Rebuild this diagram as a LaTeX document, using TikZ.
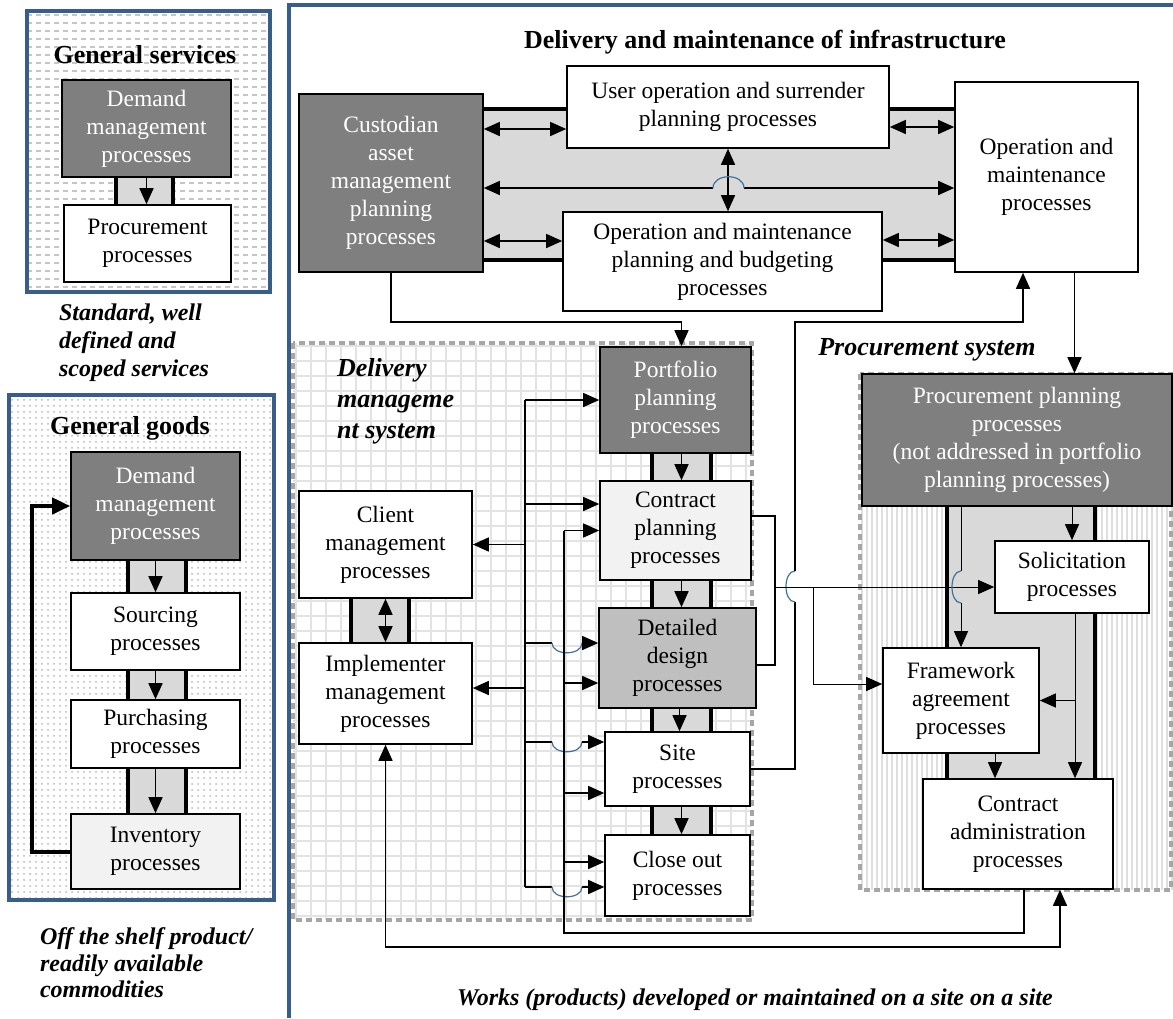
\documentclass[tikz,border=0pt]{standalone}
\usepackage{fontspec}
\setmainfont{Liberation Serif}
\usetikzlibrary{arrows.meta,
                calc,
                patterns}
\definecolor{darkbox}{RGB}{127,127,127}
\definecolor{greyfill}{RGB}{191,191,191}
\definecolor{palebox}{RGB}{242,242,242}
\definecolor{bandgray}{RGB}{217,217,217}
\definecolor{frameblue}{RGB}{56,93,138}
\definecolor{hopblue}{RGB}{65,113,156}
\definecolor{framegray}{RGB}{166,166,166}
\tikzset{
        base/.style={draw, align=center, inner sep=0pt, line width=0.8pt,
                     font=\fontsize{11.75}{14}\selectfont},
        proc/.style={base, fill=white},
        dark/.style={base, fill=darkbox, text=white},
        pale/.style={base, fill=palebox},
        greybox/.style={base, fill=greyfill},
        wire/.style={line width=0.75pt},
        myarrow/.style={-{Triangle[length=8pt, width=7pt]}, line width=0.75pt},
        thinarrow/.style={-{Triangle[length=8pt, width=7pt]}, line width=0.5pt},
        twoway/.style={{Triangle[length=8pt, width=7pt]}-{Triangle[length=8pt, width=7pt]},
                       line width=0.75pt},
        hop/.style={draw=hopblue, line width=0.6pt},
        band/.style={fill=bandgray},
        bandside/.style={line width=2pt},
        sysframe/.style={draw=framegray, line width=2pt, dash pattern=on 3pt off 2pt},
        panel/.style={draw=frameblue, line width=1.6pt},
        heading/.style={font=\fontsize{13}{15}\selectfont\bfseries},
        note/.style={align=left, font=\fontsize{12}{14}\selectfont\bfseries\itshape},
}

\begin{document}
\begin{tikzpicture}[x=0.5pt, y=-0.5pt]
    \useasboundingbox (0,0) rectangle (1173,1018);
    \fill[white] (0,0) rectangle (1173,1018);

    % left panels
    \begin{scope}
        \clip (27,11) rectangle (270,292);
        \foreach \y in {15,23,...,291}
            \draw[gray!45, line width=0.6pt, dash pattern=on 2.5pt off 2pt] (27,\y) -- (270,\y);
    \end{scope}
    \draw[panel] (27,11) rectangle (270,292);
    \fill[pattern=dots, pattern color=gray!55] (9,395) rectangle (274,900);
    \draw[panel] (9,395) rectangle (274,900);

    % right panel, grid and stripes
    \draw[panel] (289,1018) -- (289,5) -- (1173,5);
    \begin{scope}
        \clip (293,343) rectangle (752,920);
        \foreach \x in {296,311,...,752}
            \draw[gray!22, line width=0.8pt] (\x,343) -- (\x,920);
        \foreach \y in {346,361,...,920}
            \draw[gray!22, line width=0.8pt] (293,\y) -- (752,\y);
    \end{scope}
    \draw[sysframe] (293,343) rectangle (752,920);
    \begin{scope}
        \clip (860,374) rectangle (1173,890);
        \foreach \x in {862,867,...,1173}
            \draw[gray!25, line width=0.6pt] (\x,374) -- (\x,890);
    \end{scope}
    \draw[sysframe] (860,374) rectangle (1171,890);

    % bands
    \fill[band] (116,177) rectangle (173,205);
    \draw[bandside] (116,177) -- (116,205) (173,177) -- (173,205);
    \foreach \a/\b in {559/593, 670/700, 768/814} {
        \fill[band] (128,\a) rectangle (186,\b);
        \draw[bandside] (128,\a) -- (128,\b) (186,\a) -- (186,\b);
    }
    \fill[band] (483,109) rectangle (955,260);
    \draw[bandside] (483,109) -- (955,109) (483,260) -- (955,260);
    \foreach \a/\b in {453/481, 580/608, 708/732, 806/835} {
        \fill[band] (652,\a) rectangle (711,\b);
        \draw[bandside] (652,\a) -- (652,\b) (711,\a) -- (711,\b);
    }
    \fill[band] (351,598) rectangle (409,643);
    \draw[bandside] (351,598) -- (351,643) (409,598) -- (409,643);
    \fill[band] (947,506) rectangle (1095,779);
    \draw[bandside] (947,506) -- (947,779) (1095,506) -- (1095,779);

    % general services
    \node[heading] (titleS) at (145,55) {General services};
    \node[dark, minimum width=84.5pt, minimum height=48.5pt] (demS) at (146.5,128.5)
        {Demand\\management\\processes};
    \node[proc, minimum width=83.5pt, minimum height=38.5pt] (procS) at (147.5,243.5)
        {Procurement\\processes};
    \node[note, anchor=west] (noteS) at (52,343) {Standard, well\\defined and\\scoped services};

    % general goods
    \node[heading] (titleG) at (130,428) {General goods};
    \node[dark, minimum width=84.5pt, minimum height=54pt] (demG) at (155.5,506)
        {Demand\\management\\processes};
    \node[proc, minimum width=84.5pt, minimum height=38.5pt] (srcG) at (155.5,631.5)
        {Sourcing\\processes};
    \node[proc, minimum width=84.5pt, minimum height=34pt] (purG) at (155.5,734)
        {Purchasing\\processes};
    \node[pale, minimum width=84.5pt, minimum height=37.5pt] (invG) at (155.5,851.5)
        {Inventory\\processes};
    \node[note, anchor=west, font=\fontsize{12}{13.25}\selectfont\bfseries\itshape] (noteG)
        at (33,963) {Off the shelf product/\\readily available\\commodities};

    % delivery and maintenance
    \node[heading] (titleD) at (765,42) {Delivery and maintenance of infrastructure};
    \node[dark, minimum width=92pt, minimum height=89pt] (cust) at (391,183)
        {Custodian\\asset\\management\\planning\\processes};
    \node[proc, minimum width=161pt, minimum height=41pt] (userOp) at (728,107)
        {User operation and surrender\\planning processes};
    \node[proc, minimum width=159.5pt, minimum height=49.5pt] (omPlan) at (722.5,261.5)
        {Operation and maintenance\\planning and budgeting\\processes};
    \node[proc, minimum width=91.5pt, minimum height=95pt] (omProc) at (1046.5,177)
        {Operation and\\maintenance\\processes};

    % delivery management system
    \node[note, anchor=west, font=\fontsize{13}{15.5}\selectfont\bfseries\itshape] (titleDM)
        at (330,401) {Delivery\\manageme\\nt system};
    \node[dark, minimum width=75.5pt, minimum height=53pt] (port) at (675.5,400)
        {Portfolio\\planning\\processes};
    \node[pale, minimum width=75.5pt, minimum height=49.5pt] (cplan) at (675.5,530.5)
        {Contract\\planning\\processes};
    \node[greybox, minimum width=78.5pt, minimum height=50pt] (ddes) at (677.5,658)
        {Detailed\\design\\processes};
    \node[proc, minimum width=72.5pt, minimum height=37pt] (site) at (677.5,769)
        {Site\\processes};
    \node[proc, minimum width=72.5pt, minimum height=40.5pt] (close) at (677.5,875.5)
        {Close out\\processes};
    \node[proc, minimum width=86.5pt, minimum height=53.5pt] (client) at (385.5,544.5)
        {Client\\management\\processes};
    \node[proc, minimum width=86.5pt, minimum height=50.5pt] (impl) at (385.5,693.5)
        {Implementer\\management\\processes};

    % procurement system
    \node[note, font=\fontsize{13}{15}\selectfont\bfseries\itshape] (titleP) at (927,350)
        {Procurement system};
    \node[dark, minimum width=155pt, minimum height=66pt] (pplan) at (1017,440)
        {Procurement planning\\processes\\(not addressed in portfolio\\planning processes)};
    \node[proc, minimum width=77pt, minimum height=36pt] (sol) at (1072,577)
        {Solicitation\\processes};
    \node[proc, minimum width=78pt, minimum height=52.5pt] (fwk) at (961,700.5)
        {Framework\\agreement\\processes};
    \node[proc, minimum width=95pt, minimum height=55pt] (cadmin) at (1018,834)
        {Contract\\administration\\processes};

    \node[note] (noteW) at (755,1000)
        {Works (products) developed or maintained on a site on a site};

    % left connectors
    \draw[myarrow] (demS.south) -- (demS.south |- procS.north);
    \draw[myarrow] (demG.south) -- (srcG.north);
    \draw[myarrow] (srcG.south) -- (purG.north);
    \draw[myarrow] (purG.south) -- (invG.north);
    \draw[-{Triangle[length=9pt, width=8pt]}, line width=2pt]
        (invG.west) -- ++(-38,0) |- (demG.west);

    % top connectors
    \coordinate (a1) at (484,129);
    \coordinate (a2) at (484,241);
    \coordinate (a3) at (890,127);
    \coordinate (a4) at (890,240);
    \draw[twoway] (cust.east |- a1) -- (userOp.west |- a1);
    \draw[twoway] (cust.east |- a2) -- (omPlan.west |- a2);
    \draw[twoway] (userOp.east |- a3) -- (omProc.west |- a3);
    \draw[twoway] (omPlan.east |- a4) -- (omProc.west |- a4);
    \draw[twoway] (userOp.south) -- (userOp.south |- omPlan.north);
    \coordinate (hTa) at (713,188);
    \coordinate (hTb) at (744,188);
    \draw[myarrow] (hTa) -- (cust.east |- hTa);
    \draw[myarrow] (hTb) -- (omProc.west |- hTb);
    \draw[hop] (hTa) .. controls +(0,-15) and +(0,-15) .. (hTb);
    \draw[myarrow] (cust.south) -- ++(0,49) -| ([xshift=3pt]port.north);
    \draw[myarrow] ([xshift=14pt]omProc.south) -- ([xshift=14pt]omProc.south |- pplan.north);

    % site back to operation and maintenance
    \coordinate (hv1a) at (795,602);
    \coordinate (hv1b) at (795,571);
    \coordinate (upT) at (795,322);
    \draw[wire] (site.east) -| (hv1a);
    \draw[hop] (hv1a) .. controls +(-12,0) and +(-12,0) .. (hv1b);
    \draw[myarrow] (hv1b) -- (upT) -| ([xshift=-11.75pt]omProc.south);

    % stack of delivery processes
    \draw[myarrow] ([xshift=3pt]port.south) -- ([xshift=3pt]port.south |- cplan.north);
    \draw[myarrow] ([xshift=3pt]cplan.south) -- ([xshift=3pt]cplan.south |- ddes.north);
    \draw[myarrow] ([xshift=1pt]ddes.south) -- ([xshift=1pt]ddes.south |- site.north);
    \draw[myarrow] ([xshift=2pt]site.south) -- ([xshift=2pt]site.south |- close.north);
    \draw[twoway] (client.south) -- (impl.north);

    % trunk 1
    \coordinate (t1) at (525,400);
    \coordinate (t1b) at (525,887);
    \draw[wire] (t1) -- (t1b);
    \draw[myarrow] (t1) -- (port.west);
    \draw[myarrow] (525,504) -- ([yshift=13.25pt]cplan.west);
    \draw[myarrow] (525,544.5) -- (client.east);
    \draw[myarrow] (525,688) -- ([yshift=2.75pt]impl.east);
    \foreach \y/\s/\n in {643/7.5pt/ddes, 742/13.5pt/site, 887/-5.75pt/close} {
        \draw[wire] (525,\y) -- (552,\y);
        \draw[hop] (552,\y) .. controls +(0,13) and +(0,13) .. (582,\y);
        \draw[myarrow] (582,\y) -- ([yshift=\s]\n.west);
    }

    % trunk 2
    \draw[myarrow] (564,530.5) -- (cplan.west);
    \draw[myarrow] (564,683) -- ([yshift=-12.5pt]ddes.west);
    \draw[myarrow] (564,793) -- ([yshift=-12pt]site.west);
    \draw[myarrow] (564,862) -- ([yshift=6.75pt]close.west);
    \draw[wire] ([xshift=3pt]cadmin.south) |- (564,933) -- (564,530.5);

    % trunk 3
    \draw[twoway] (impl.south) -- ++(0,202) -| ([xshift=21pt]cadmin.south);

    % delivery to procurement
    \coordinate (cpR) at (775,516);
    \coordinate (ddR) at (775,665);
    \coordinate (solIn) at (995,587);
    \coordinate (brk) at (813,587);
    \draw[wire] (cplan.east |- cpR) -- (cpR) -- (ddR) -- (ddes.east |- ddR);
    \draw[thinarrow] (cpR |- solIn) -- (sol.west |- solIn);
    \draw[thinarrow] (brk) |- ([yshift=8.25pt]fwk.west);

    % inside procurement
    \coordinate (hv2a) at (961,571);
    \coordinate (hv2b) at (961,603);
    \draw[thinarrow] (pplan.south -| sol.north) -- (sol.north);
    \draw[line width=0.5pt] (pplan.south -| fwk.north) -- (hv2a);
    \draw[hop] (hv2a) .. controls +(-12,0) and +(-12,0) .. (hv2b);
    \draw[thinarrow] (hv2b) -- (fwk.north);
    \draw[thinarrow] ([xshift=1.5pt]sol.south) -- ([xshift=1.5pt]sol.south |- cadmin.north);
    \draw[thinarrow] ([xshift=1.5pt]sol.south |- fwk.east) -- (fwk.east);
    \draw[thinarrow] ([xshift=17pt]fwk.south) -- ([xshift=17pt]fwk.south |- cadmin.north);
\end{tikzpicture}
\end{document}
